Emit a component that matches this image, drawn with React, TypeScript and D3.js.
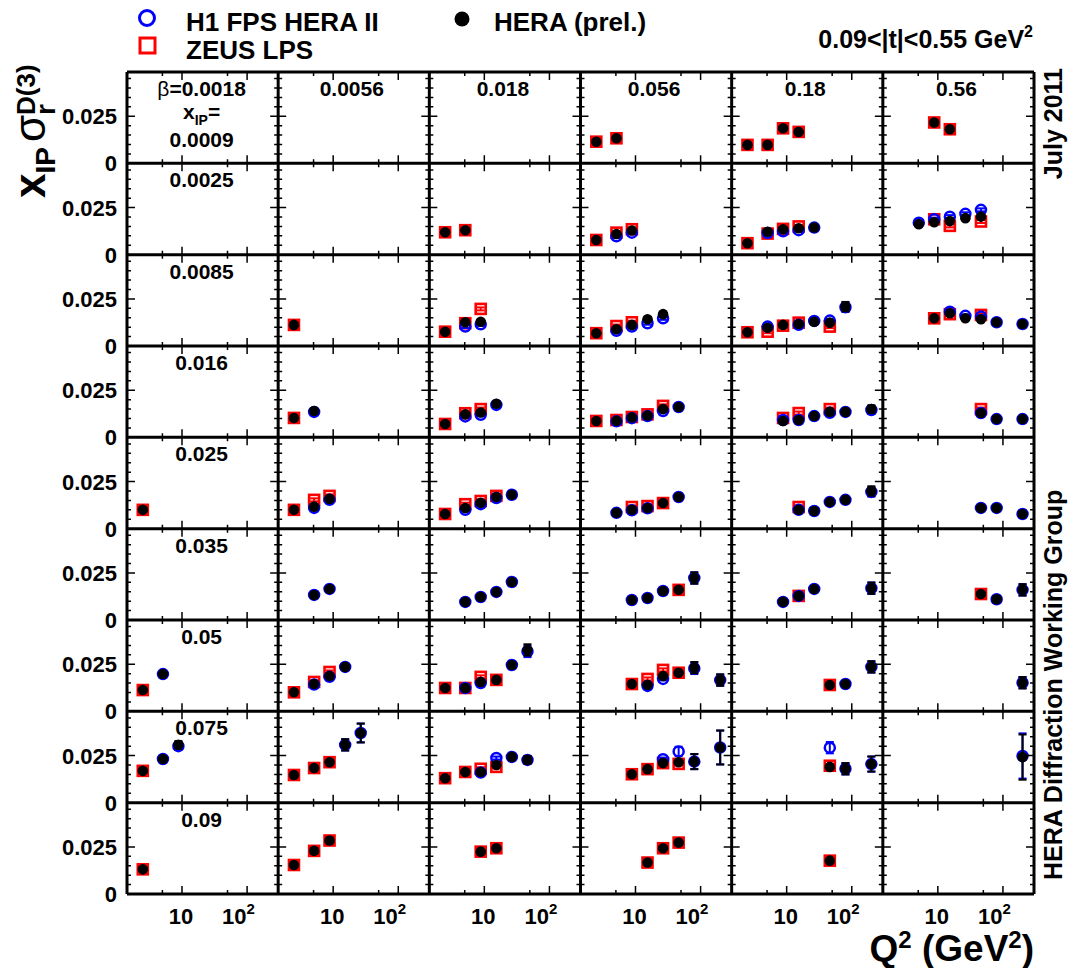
import React from "react";
import * as d3 from "d3";

// Grid definition: columns are beta bins, rows are x_IP bins
const betaLabels = ["0.0018", "0.0056", "0.018", "0.056", "0.18", "0.56"];
const xpomLabels = ["0.0009", "0.0025", "0.0085", "0.016", "0.025", "0.035", "0.05", "0.075", "0.09"];

// Axis ticks
const q2MajorTicks = [10, 100];
const q2MinorTicks = [5, 50];
const q2TickLabels = ["10", "10"];
const yMajorTicks = [0, 0.025];
const yMinorTicks = [0.005, 0.01, 0.015, 0.02, 0.03, 0.035, 0.04, 0.045];
const yTickLabels = ["0", "0.025"];

// Points: [x_IP row, beta column, Q2, x_IP*sigma_r^D(3), error]
const heraPoints: number[][] = [
  [0, 3, 2.5, 0.0115], [0, 3, 5.1, 0.0133],
  [0, 4, 2.5, 0.0098], [0, 4, 5.1, 0.0098], [0, 4, 8.8, 0.0186], [0, 4, 15.3, 0.0167],
  [0, 5, 8.8, 0.0217], [0, 5, 15.3, 0.0181],

  [1, 2, 2.5, 0.0119], [1, 2, 5.1, 0.013],
  [1, 3, 2.5, 0.0078], [1, 3, 5.1, 0.011], [1, 3, 8.8, 0.0128],
  [1, 4, 2.5, 0.0061], [1, 4, 5.1, 0.0122], [1, 4, 8.8, 0.0135], [1, 4, 15.3, 0.014], [1, 4, 26.5, 0.0144],
  [1, 5, 5.1, 0.0162], [1, 5, 8.8, 0.0172], [1, 5, 15.3, 0.0179], [1, 5, 26.5, 0.0194], [1, 5, 46, 0.0202],

  [2, 1, 2.5, 0.0112],
  [2, 2, 2.5, 0.0076], [2, 2, 5.1, 0.0126], [2, 2, 8.8, 0.0129],
  [2, 3, 2.5, 0.0068], [2, 3, 5.1, 0.0089], [2, 3, 8.8, 0.0112], [2, 3, 15.3, 0.0142], [2, 3, 26.5, 0.0169],
  [2, 4, 2.5, 0.0073], [2, 4, 5.1, 0.0097], [2, 4, 8.8, 0.0112], [2, 4, 15.3, 0.0117], [2, 4, 26.5, 0.0129], [2, 4, 46, 0.0124], [2, 4, 80, 0.0209, 0.0025],
  [2, 5, 8.8, 0.0147], [2, 5, 15.3, 0.0174], [2, 5, 26.5, 0.0147], [2, 5, 46, 0.0142], [2, 5, 80, 0.0126], [2, 5, 200, 0.0117],

  [3, 1, 2.5, 0.0103], [3, 1, 5.1, 0.014],
  [3, 2, 2.5, 0.0071], [3, 2, 5.1, 0.0122], [3, 2, 8.8, 0.0132], [3, 2, 15.3, 0.0178],
  [3, 3, 2.5, 0.0087], [3, 3, 5.1, 0.0088], [3, 3, 8.8, 0.0105], [3, 3, 15.3, 0.0116], [3, 3, 26.5, 0.015], [3, 3, 46, 0.0161],
  [3, 4, 8.8, 0.0087], [3, 4, 15.3, 0.0092], [3, 4, 26.5, 0.0113], [3, 4, 46, 0.0135], [3, 4, 80, 0.0135], [3, 4, 200, 0.015, 0.002],
  [3, 5, 46, 0.0129], [3, 5, 80, 0.0097], [3, 5, 200, 0.0097],

  [4, 0, 2.5, 0.01],
  [4, 1, 2.5, 0.01], [4, 1, 5.1, 0.0117], [4, 1, 8.8, 0.0158],
  [4, 2, 2.5, 0.0078], [4, 2, 5.1, 0.011], [4, 2, 8.8, 0.0137], [4, 2, 15.3, 0.0168], [4, 2, 26.5, 0.018],
  [4, 3, 5.1, 0.0084], [4, 3, 8.8, 0.01], [4, 3, 15.3, 0.011], [4, 3, 26.5, 0.0136], [4, 3, 46, 0.0168],
  [4, 4, 15.3, 0.01], [4, 4, 26.5, 0.0094], [4, 4, 46, 0.0142], [4, 4, 80, 0.0153], [4, 4, 200, 0.02, 0.0025],
  [4, 5, 46, 0.011], [4, 5, 80, 0.011], [4, 5, 200, 0.0078],

  [5, 1, 5.1, 0.0133], [5, 1, 8.8, 0.0165],
  [5, 2, 5.1, 0.0096], [5, 2, 8.8, 0.0122], [5, 2, 15.3, 0.0149], [5, 2, 26.5, 0.0202],
  [5, 3, 8.8, 0.0106], [5, 3, 15.3, 0.0117], [5, 3, 26.5, 0.0154], [5, 3, 46, 0.016], [5, 3, 80, 0.0223, 0.003],
  [5, 4, 8.8, 0.0096], [5, 4, 15.3, 0.0128], [5, 4, 26.5, 0.0165], [5, 4, 200, 0.0169, 0.003],
  [5, 5, 46, 0.0138], [5, 5, 80, 0.011, 0.0015], [5, 5, 200, 0.016, 0.003],

  [6, 0, 2.5, 0.0113], [6, 0, 5.1, 0.0198],
  [6, 1, 2.5, 0.0101], [6, 1, 5.1, 0.0145], [6, 1, 8.8, 0.0188], [6, 1, 15.3, 0.0236],
  [6, 2, 2.5, 0.0124], [6, 2, 5.1, 0.0124], [6, 2, 8.8, 0.0156], [6, 2, 15.3, 0.0167], [6, 2, 26.5, 0.0246], [6, 2, 46, 0.0326, 0.003],
  [6, 3, 8.8, 0.0145], [6, 3, 15.3, 0.014], [6, 3, 26.5, 0.0188], [6, 3, 46, 0.0205], [6, 3, 80, 0.0232, 0.003], [6, 3, 200, 0.0166, 0.003],
  [6, 4, 46, 0.014], [6, 4, 80, 0.0145], [6, 4, 200, 0.0236, 0.003],
  [6, 5, 200, 0.0152, 0.003],

  [7, 0, 2.5, 0.0169], [7, 0, 5.1, 0.0232], [7, 0, 8.8, 0.0307, 0.002],
  [7, 1, 2.5, 0.0147], [7, 1, 5.1, 0.0184], [7, 1, 8.8, 0.0215], [7, 1, 15.3, 0.0307, 0.003], [7, 1, 26.5, 0.037, 0.005],
  [7, 2, 2.5, 0.013], [7, 2, 5.1, 0.0163], [7, 2, 8.8, 0.0163], [7, 2, 15.3, 0.02], [7, 2, 26.5, 0.0243], [7, 2, 46, 0.0227, 0.002],
  [7, 3, 8.8, 0.0151], [7, 3, 15.3, 0.0178], [7, 3, 26.5, 0.021], [7, 3, 46, 0.0215], [7, 3, 80, 0.0218, 0.004], [7, 3, 200, 0.0293, 0.009],
  [7, 4, 46, 0.019], [7, 4, 80, 0.018, 0.003], [7, 4, 200, 0.0205, 0.004],
  [7, 5, 200, 0.0242, 0.012],

  [8, 0, 2.5, 0.0131],
  [8, 1, 2.5, 0.0154], [8, 1, 5.1, 0.0229, 0.0015], [8, 1, 8.8, 0.0284, 0.0015],
  [8, 2, 8.8, 0.0225], [8, 2, 15.3, 0.0243],
  [8, 3, 15.3, 0.0167], [8, 3, 26.5, 0.0243], [8, 3, 46, 0.0273],
  [8, 4, 46, 0.0177],
];

const zeusPoints: number[][] = [
  [0, 3, 2.5, 0.0115], [0, 3, 5.1, 0.0133], [0, 4, 2.5, 0.0098], [0, 4, 5.1, 0.0098], [0, 4, 8.8, 0.0186], [0, 4, 15.3, 0.0167], [0, 5, 8.8, 0.0217], [0, 5, 15.3, 0.0181],
  [1, 2, 2.5, 0.0119], [1, 2, 5.1, 0.013], [1, 3, 2.5, 0.0078], [1, 3, 5.1, 0.0117], [1, 3, 8.8, 0.0135], [1, 4, 2.5, 0.0061], [1, 4, 5.1, 0.0112], [1, 4, 8.8, 0.0137], [1, 4, 15.3, 0.015], [1, 5, 8.8, 0.0188], [1, 5, 15.3, 0.0153], [1, 5, 46, 0.0176],
  [2, 1, 2.5, 0.0112], [2, 2, 2.5, 0.0076], [2, 2, 5.1, 0.0121], [2, 2, 8.8, 0.0197], [2, 3, 2.5, 0.0068], [2, 3, 5.1, 0.0106], [2, 3, 8.8, 0.0126], [2, 4, 2.5, 0.0073], [2, 4, 5.1, 0.0076], [2, 4, 8.8, 0.0108], [2, 4, 15.3, 0.0124], [2, 4, 46, 0.0103], [2, 5, 8.8, 0.0147], [2, 5, 15.3, 0.0169], [2, 5, 46, 0.0165],
  [3, 1, 2.5, 0.0103], [3, 2, 2.5, 0.0071], [3, 2, 5.1, 0.0128], [3, 2, 8.8, 0.015], [3, 3, 2.5, 0.0087], [3, 3, 5.1, 0.0092], [3, 3, 8.8, 0.0108], [3, 3, 15.3, 0.0122], [3, 3, 26.5, 0.0167], [3, 4, 8.8, 0.0103], [3, 4, 15.3, 0.0129], [3, 4, 46, 0.015], [3, 5, 46, 0.015],
  [4, 0, 2.5, 0.01], [4, 1, 2.5, 0.01], [4, 1, 5.1, 0.0153], [4, 1, 8.8, 0.0174], [4, 2, 2.5, 0.0078], [4, 2, 5.1, 0.013], [4, 2, 8.8, 0.0147], [4, 2, 15.3, 0.0174], [4, 3, 8.8, 0.0115], [4, 3, 15.3, 0.012], [4, 3, 26.5, 0.0136], [4, 4, 15.3, 0.0115],
  [5, 3, 46, 0.016], [5, 4, 15.3, 0.0128], [5, 5, 46, 0.0138],
  [6, 0, 2.5, 0.0113], [6, 1, 2.5, 0.0101], [6, 1, 5.1, 0.0156], [6, 1, 8.8, 0.0209], [6, 2, 2.5, 0.0124], [6, 2, 5.1, 0.0124], [6, 2, 8.8, 0.0183], [6, 2, 15.3, 0.0167], [6, 3, 8.8, 0.0145], [6, 3, 15.3, 0.0172], [6, 3, 26.5, 0.022], [6, 3, 46, 0.0205], [6, 4, 46, 0.014],
  [7, 0, 2.5, 0.0169], [7, 1, 2.5, 0.0147], [7, 1, 5.1, 0.0184], [7, 1, 8.8, 0.0215], [7, 2, 2.5, 0.013], [7, 2, 5.1, 0.0163], [7, 2, 8.8, 0.018], [7, 2, 15.3, 0.019], [7, 3, 8.8, 0.0151], [7, 3, 15.3, 0.0178], [7, 3, 26.5, 0.021], [7, 3, 46, 0.0206], [7, 4, 46, 0.0196],
  [8, 0, 2.5, 0.0131], [8, 1, 2.5, 0.0154], [8, 1, 5.1, 0.0229], [8, 1, 8.8, 0.0284], [8, 2, 8.8, 0.0225], [8, 2, 15.3, 0.0243], [8, 3, 15.3, 0.0167], [8, 3, 26.5, 0.0243], [8, 3, 46, 0.0273], [8, 4, 46, 0.0177],
];

const h1Points: number[][] = [
  [1, 3, 5.1, 0.0098], [1, 3, 8.8, 0.0117], [1, 4, 5.1, 0.0115], [1, 4, 8.8, 0.0124], [1, 4, 15.3, 0.013], [1, 4, 26.5, 0.0144],
  [1, 5, 5.1, 0.017], [1, 5, 8.8, 0.0188], [1, 5, 15.3, 0.0202], [1, 5, 26.5, 0.0217], [1, 5, 46, 0.0238],
  [2, 2, 5.1, 0.0103], [2, 2, 8.8, 0.0115], [2, 3, 5.1, 0.0081], [2, 3, 8.8, 0.0103], [2, 3, 15.3, 0.0121], [2, 3, 26.5, 0.0147],
  [2, 4, 5.1, 0.0103], [2, 4, 15.3, 0.0113], [2, 4, 26.5, 0.0133], [2, 4, 46, 0.0135], [2, 4, 80, 0.0206, 0.0025],
  [2, 5, 15.3, 0.0182], [2, 5, 26.5, 0.016], [2, 5, 46, 0.0156], [2, 5, 80, 0.0126], [2, 5, 200, 0.0117],
  [3, 1, 5.1, 0.0135], [3, 2, 5.1, 0.0111], [3, 2, 8.8, 0.012], [3, 2, 15.3, 0.0172],
  [3, 3, 5.1, 0.0085], [3, 3, 8.8, 0.0102], [3, 3, 15.3, 0.0113], [3, 3, 26.5, 0.014], [3, 3, 46, 0.0161],
  [3, 4, 8.8, 0.0092], [3, 4, 15.3, 0.0092], [3, 4, 26.5, 0.0113], [3, 4, 46, 0.013], [3, 4, 80, 0.0135], [3, 4, 200, 0.0145, 0.002],
  [3, 5, 46, 0.0129], [3, 5, 80, 0.0097], [3, 5, 200, 0.0097],
  [4, 1, 5.1, 0.011], [4, 1, 8.8, 0.0153], [4, 2, 5.1, 0.01], [4, 2, 8.8, 0.013], [4, 2, 15.3, 0.0163], [4, 2, 26.5, 0.018],
  [4, 3, 5.1, 0.0084], [4, 3, 8.8, 0.0098], [4, 3, 15.3, 0.0108], [4, 3, 46, 0.0168],
  [4, 4, 15.3, 0.01], [4, 4, 26.5, 0.0094], [4, 4, 46, 0.0142], [4, 4, 80, 0.0153], [4, 4, 200, 0.0195, 0.0025],
  [4, 5, 46, 0.011], [4, 5, 80, 0.011], [4, 5, 200, 0.0078],
  [5, 1, 5.1, 0.0133], [5, 1, 8.8, 0.0165], [5, 2, 5.1, 0.0096], [5, 2, 8.8, 0.0122], [5, 2, 15.3, 0.0149], [5, 2, 26.5, 0.0202],
  [5, 3, 8.8, 0.0106], [5, 3, 15.3, 0.0117], [5, 3, 26.5, 0.0154], [5, 3, 80, 0.0223, 0.003],
  [5, 4, 8.8, 0.0096], [5, 4, 15.3, 0.0128], [5, 4, 26.5, 0.0165], [5, 4, 200, 0.0169, 0.003],
  [5, 5, 80, 0.011, 0.0015], [5, 5, 200, 0.016, 0.003],
  [6, 0, 5.1, 0.0198], [6, 1, 5.1, 0.0142], [6, 1, 8.8, 0.0183], [6, 1, 15.3, 0.0236],
  [6, 2, 5.1, 0.0124], [6, 2, 8.8, 0.015], [6, 2, 26.5, 0.0246], [6, 2, 46, 0.0318, 0.003],
  [6, 3, 15.3, 0.0135], [6, 3, 26.5, 0.0172], [6, 3, 80, 0.0228, 0.003], [6, 3, 200, 0.0166, 0.003],
  [6, 4, 80, 0.0145], [6, 4, 200, 0.0236, 0.003], [6, 5, 200, 0.0152, 0.003],
  [7, 0, 5.1, 0.0232], [7, 0, 8.8, 0.03, 0.002], [7, 1, 15.3, 0.0307, 0.003], [7, 1, 26.5, 0.037, 0.005],
  [7, 2, 8.8, 0.016], [7, 2, 15.3, 0.0237], [7, 2, 26.5, 0.0243], [7, 2, 46, 0.0227, 0.002],
  [7, 3, 26.5, 0.0231], [7, 3, 46, 0.0272, 0.0025], [7, 3, 80, 0.0218, 0.004], [7, 3, 200, 0.0293, 0.009],
  [7, 4, 46, 0.0292, 0.003], [7, 4, 80, 0.018, 0.003], [7, 4, 200, 0.0205, 0.004], [7, 5, 200, 0.0248, 0.012],
];

const FONT = "'Liberation Sans', Arial, Helvetica, sans-serif";
const W = 1070;
const H = 968;
const LEFT = 127;
const RIGHT = 1034;
const TOP = 72;
const BOTTOM = 894;
const NCOL = betaLabels.length;
const NROW = xpomLabels.length;
const colW = (RIGHT - LEFT) / NCOL;
const rowH = (BOTTOM - TOP) / NROW;
const DEFAULT_ERR = 0.0008;

const BLUE = "#0000ff";
const RED = "#ff0000";

export default function App() {
  const x = d3.scaleLog().domain([1.43, 300]).range([0, colW]);
  const y = d3.scaleLinear().domain([0, 0.0485]).range([rowH, 0]);
  const colX = (c: number) => LEFT + c * colW;
  const rowY = (r: number) => TOP + r * rowH;

  const px = (p: number[]) => colX(p[1]) + x(p[2]);
  const py = (p: number[]) => rowY(p[0]) + y(p[3]);
  const errPx = (p: number[]) => y(0) - y(p[4] ?? DEFAULT_ERR);

  // tick marks on all four sides of every panel
  const tickPath = d3.path();
  for (let r = 0; r < NROW; r++) {
    for (let c = 0; c < NCOL; c++) {
      const x0 = colX(c);
      const y0 = rowY(r);
      const x1 = x0 + colW;
      const y1 = y0 + rowH;
      const xt = [...q2MajorTicks.map((v) => [v, 8]), ...q2MinorTicks.map((v) => [v, 4])];
      for (const [v, len] of xt) {
        const xx = x0 + x(v);
        tickPath.moveTo(xx, y1);
        tickPath.lineTo(xx, y1 - len);
        tickPath.moveTo(xx, y0);
        tickPath.lineTo(xx, y0 + len);
      }
      const yt = [...yMajorTicks.map((v) => [v, 8]), ...yMinorTicks.map((v) => [v, 4])];
      for (const [v, len] of yt) {
        const yy = y0 + y(v);
        tickPath.moveTo(x0, yy);
        tickPath.lineTo(x0 + len, yy);
        tickPath.moveTo(x1, yy);
        tickPath.lineTo(x1 - len, yy);
      }
    }
  }

  const framePath = d3.path();
  for (let c = 0; c <= NCOL; c++) {
    framePath.moveTo(colX(c), TOP);
    framePath.lineTo(colX(c), BOTTOM);
  }
  for (let r = 0; r <= NROW; r++) {
    framePath.moveTo(LEFT, rowY(r));
    framePath.lineTo(RIGHT, rowY(r));
  }

  const errorBars = (pts: number[][], color: string, cap: number) =>
    pts.map((p, i) => {
      const cx = px(p);
      const cy = py(p);
      const e = errPx(p);
      return (
        <g key={i} stroke={color} strokeWidth={2}>
          <line x1={cx} x2={cx} y1={cy - e} y2={cy + e} />
          <line x1={cx - cap} x2={cx + cap} y1={cy - e} y2={cy - e} />
          <line x1={cx - cap} x2={cx + cap} y1={cy + e} y2={cy + e} />
        </g>
      );
    });

  return (
    <svg
      width={W}
      height={H}
      style={{ position: "absolute", left: 0, top: 0, background: "#fff" }}
      fontFamily={FONT}
      fontWeight="bold"
    >
      <rect width={W} height={H} fill="#fff" />

      {/* legend */}
      <circle cx={147} cy={18} r={7.5} fill="none" stroke={BLUE} strokeWidth={3} />
      <text x={186} y={31} fontSize={26}>H1 FPS HERA II</text>
      <rect x={140} y={38} width={15} height={15} fill="none" stroke={RED} strokeWidth={3} />
      <text x={186} y={59} fontSize={26}>ZEUS LPS</text>
      <circle cx={462} cy={19} r={7.5} fill="#000" />
      <text x={494} y={31} fontSize={26}>HERA (prel.)</text>

      <text x={1033} y={48} fontSize={25} textAnchor="end">
        0.09&lt;|t|&lt;0.55 GeV<tspan fontSize={16} dy={-11}>2</tspan>
      </text>

      {/* vertical title */}
      <text transform="translate(45,198) rotate(-90)" fontSize={44}>
        x<tspan fontSize={28} dy={10}>IP</tspan>
        <tspan dy={-10} dx={5} fontWeight="normal">σ</tspan>
        <tspan fontSize={28} dy={10}>r</tspan>
        <tspan fontSize={26} dy={-20} dx={-11}>D(3)</tspan>
      </text>

      <text transform="translate(1062,68) rotate(-90)" fontSize={25} textAnchor="end">July 2011</text>
      <text transform="translate(1062,880) rotate(-90)" fontSize={25}>HERA Diffraction Working Group</text>

      <text x={1034} y={961} fontSize={37} textAnchor="end">
        Q<tspan fontSize={24} dy={-13}>2</tspan>
        <tspan dy={13}> (GeV</tspan>
        <tspan fontSize={24} dy={-13}>2</tspan>
        <tspan dy={13}>)</tspan>
      </text>

      {/* y tick labels */}
      {xpomLabels.map((_, r) =>
        yMajorTicks.map((v, k) => (
          <text key={`yl${r}-${k}`} x={117} y={rowY(r) + y(v)} dy="0.36em" fontSize={22} textAnchor="end">
            {yTickLabels[k]}
          </text>
        ))
      )}

      {/* x tick labels */}
      {betaLabels.map((_, c) =>
        q2MajorTicks.map((v, k) =>
          k === 0 ? (
            <text key={`xl${c}-${k}`} x={colX(c) + x(v) - 1} y={924} fontSize={22} textAnchor="middle">
              {q2TickLabels[k]}
            </text>
          ) : (
            <text key={`xl${c}-${k}`} x={colX(c) + x(v) - 25} y={924} fontSize={22}>
              {q2TickLabels[k]}
              <tspan fontSize={15} dy={-10}>2</tspan>
            </text>
          )
        )
      )}

      {/* panel labels */}
      {betaLabels.map((b, c) =>
        c === 0 ? (
          <text key={`b${c}`} x={colX(c) + colW / 2 - 1} y={TOP + 24} fontSize={21} textAnchor="middle">
            <tspan fontWeight="normal">β</tspan>={b}
          </text>
        ) : (
          <text key={`b${c}`} x={colX(c) + colW / 2 - 2} y={TOP + 24} fontSize={21} textAnchor="middle">
            {b}
          </text>
        )
      )}
      <text x={colX(0) + colW / 2 - 1} y={TOP + 47} fontSize={21} textAnchor="middle">
        x<tspan fontSize={14} dy={6}>IP</tspan>
        <tspan dy={-6}>=</tspan>
      </text>
      {xpomLabels.map((lab, r) => (
        <text
          key={`xp${r}`}
          x={colX(0) + colW / 2 - 1}
          y={r === 0 ? TOP + 75 : rowY(r) + 24}
          fontSize={21}
          textAnchor="middle"
        >
          {lab}
        </text>
      ))}

      {/* data: ZEUS, H1, then combined on top */}
      <g>
        {errorBars(zeusPoints, RED, 4)}
        {zeusPoints.map((p, i) => (
          <rect key={`z${i}`} x={px(p) - 5} y={py(p) - 5} width={10} height={10} fill="none" stroke={RED} strokeWidth={2.6} />
        ))}
      </g>
      <g>
        {errorBars(h1Points, BLUE, 4)}
        {h1Points.map((p, i) => (
          <circle key={`h${i}`} cx={px(p)} cy={py(p)} r={5} fill="none" stroke={BLUE} strokeWidth={2.5} />
        ))}
      </g>
      <g>
        {errorBars(heraPoints, "#000", 4)}
        {heraPoints.map((p, i) => (
          <circle key={`c${i}`} cx={px(p)} cy={py(p)} r={5.3} fill="#000" />
        ))}
      </g>

      <path d={tickPath.toString()} stroke="#000" strokeWidth={1.5} fill="none" />
      <path d={framePath.toString()} stroke="#000" strokeWidth={3} fill="none" />
    </svg>
  );
}
